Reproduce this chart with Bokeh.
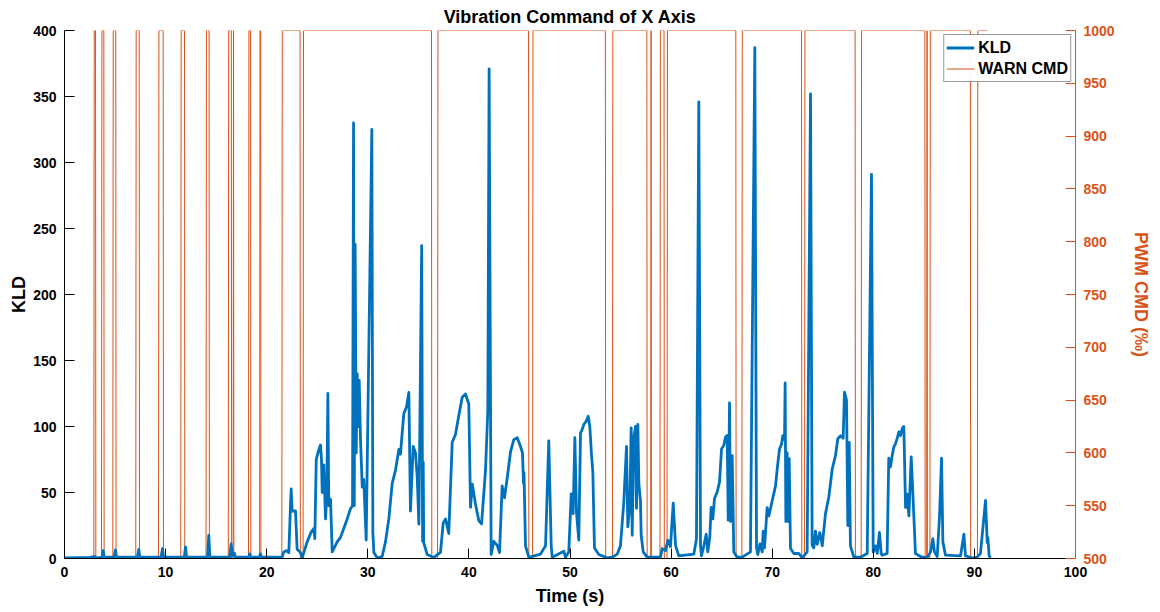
from bokeh.plotting import figure
from bokeh.models import Range1d, LinearAxis, Legend, LegendItem, FixedTicker
from bokeh.embed import file_html
from bokeh.resources import INLINE

# ---- KLD series (time s, value) ----
kld_t = [0, 2.5, 3.0, 3.2, 3.75, 3.83, 3.92, 4.9, 5.04, 5.15, 7.2, 7.35, 7.45, 9.55, 9.69, 9.8,
         11.85, 11.97, 12.08, 14.15, 14.27, 14.38, 16.35, 16.48, 16.6, 16.8, 16.9, 18.2, 18.33, 18.45,
         19.25, 19.38, 19.5, 21.3,
         21.53, 21.69, 21.96, 22.19, 22.35, 22.42, 22.52, 22.85, 23.01, 23.34, 23.51, 24.0, 24.4, 24.66,
         24.76, 24.9, 25.16, 25.32, 25.42, 25.49, 25.65, 25.82, 25.95, 26.05, 26.14, 26.31, 26.48, 26.97,
         27.3, 27.96, 28.29, 28.49, 28.59, 28.66, 28.75, 28.85, 28.95, 29.05, 29.15, 29.28, 29.45, 29.6,
         29.84, 30.4, 30.5, 30.6, 30.93, 31.42, 31.75, 32.08, 32.41, 32.74, 33.07,
         33.23, 33.4, 33.56, 33.83, 34.06, 34.22, 34.49, 34.72, 34.89, 35.05, 35.33, 35.42, 35.48, 35.53,
         35.88, 36.53, 37.19, 37.46, 37.69, 38.01, 38.35, 38.67, 39.0, 39.34, 39.66, 39.99, 40.16, 40.33,
         40.65, 40.98, 41.25, 41.64, 41.87, 42.0, 42.2, 42.46, 42.8, 43.03, 43.29, 43.52, 43.79, 44.12,
         44.44, 44.78, 45.1, 45.3, 45.4, 45.45, 45.6, 45.93,
         47.08, 47.58, 47.9, 48.14, 48.24, 49.39, 49.55, 49.88, 50.12, 50.31, 50.48, 50.64, 50.87, 51.04,
         51.21, 51.37, 51.6, 51.8, 51.96, 52.13, 52.26, 52.42, 52.85, 53.68, 54.17, 54.67, 54.99, 55.32,
         55.59, 55.72, 55.92, 56.05, 56.15, 56.31, 56.48, 56.58, 56.71, 56.81, 56.97, 57.04, 57.24,
         57.63, 58.95, 59.12, 59.45, 59.68, 59.94, 60.21, 60.44, 60.76, 62.25, 62.51, 62.74, 62.91, 63.0,
         63.24, 63.47, 63.63, 63.83, 63.96, 64.13, 64.29, 64.56, 64.79, 64.99, 65.21, 65.38, 65.55, 65.65,
         65.78, 65.88, 66.04, 66.2, 66.54, 67.03, 67.85, 68.28, 68.45, 68.58, 68.78, 69.01,
         69.11, 69.24, 69.5, 69.67, 70.0, 70.33, 70.49, 70.72, 70.92, 71.05, 71.22, 71.28, 71.35, 71.48,
         71.58, 71.68, 71.81, 72.14, 72.63, 72.97, 73.46, 73.79, 73.95, 74.12, 74.28, 74.45, 74.71, 74.95,
         75.27, 75.6, 75.94, 76.26, 76.49, 76.76, 77.02, 77.15, 77.35, 77.48, 77.62, 77.74, 78.07, 78.73,
         79.4, 79.82, 79.99, 80.22, 80.39, 80.61, 80.78,
         80.88, 81.37, 81.53, 81.7, 81.87, 82.03, 82.2, 82.36, 82.53, 82.69, 82.86, 83.02, 83.19, 83.35,
         83.52, 83.75, 83.91, 84.17, 84.67, 85.33, 85.66, 85.89, 86.05, 86.32, 86.55, 86.75, 86.88, 87.14,
         88.63, 88.96, 89.12, 89.78, 90.27, 90.6, 91.1, 91.27, 91.33, 91.46, 91.6]
kld_v = [0.5, 0.8, 1.5, 0.5, 1, 6, 1, 1, 6.5, 1, 1, 6.8, 1, 1, 7.4, 1,
         1, 8.7, 1, 1, 17.5, 1, 1, 11, 2, 4, 1, 1, 3.5, 1,
         1, 3.5, 1, 1,
         1, 5, 6, 4.5, 40, 52.7, 36, 36, 7, 4.5, 0.5, 12.6, 20, 22.7,
         15, 75, 82.6, 86, 75, 50, 71, 30, 50, 125, 40, 45, 5, 12.6,
         16, 30, 37.8, 40, 330, 40, 238, 80, 140, 100, 135, 90, 54, 60,
         14, 325, 20, 4.5, 0.5, 1.5, 12.6, 30, 56.7, 67, 82.6,
         79, 95, 109.6, 115, 125.8, 36, 85, 80, 61.5, 26, 237, 13, 73, 12,
         3, 0.8, 4.6, 27, 30, 18.9, 88, 94, 108.4, 122.2, 124.7, 117, 38.8, 56.4,
         41.3, 28.7, 26.2, 66.5, 111.9, 371, 3, 13, 10, 4.5, 55, 46, 61, 81,
         90, 91.5, 85, 80, 57, 65, 9.6, 0.8,
         3.3, 9.6, 89, 10, 1, 5.5, 1, 5, 49, 34, 91.5, 35, 14, 95,
         97.8, 101.6, 104, 107.8, 100, 78, 65.5, 8, 3, 0.5, 1, 3.3, 9.6, 42.6,
         85, 24, 40, 99, 17.6, 91.5, 100, 38, 101.6, 57, 43.8, 17.6, 5,
         1, 1, 7.5, 6, 13.8, 9, 42, 10, 2, 3.3, 15, 346, 10, 2,
         9.6, 18.4, 5, 16.4, 38.8, 30, 45.4, 50.4, 58, 83, 85.7, 92, 93.2, 29,
         117.9, 28, 78, 5, 1, 1, 5, 387, 8, 3, 11, 5,
         20.8, 8, 38.6, 32.3, 43.7, 55, 67.6, 82.8, 86.6, 93, 90, 133, 28, 80,
         28, 75.6, 7.6, 3.8, 3.8, 0.5, 5, 352, 10, 8, 20.8, 10.8, 19.7, 9.6,
         34, 46.6, 68, 78, 90.7, 93, 91, 126, 120, 25, 88, 9.6, 1, 1,
         3.8, 291, 5, 9.6, 3.8, 19.7, 3.8,
         2.5, 3.8, 76, 69.5, 78, 84.4, 87, 91, 96, 93, 98.5, 100, 38.6, 48.7,
         32.3, 76.9, 50, 3.8, 1.5, 0.5, 5, 15, 5, 1.5, 32, 76, 12.6, 2.5,
         2, 18.4, 2, 0.5, 1, 3.8, 44, 12, 16, 2, 0.5]

# ---- WARN CMD pulses (time s): level 500 low / 1000 high ----
pulse_on = [2.9, 3.66, 4.78, 7.05, 9.3, 11.5, 14.0, 16.2, 16.68, 18.2, 19.3, 21.5, 23.6, 36.9,
            46.3, 54.2, 57.98, 58.9, 59.6, 67.0, 73.2, 78.8, 85.28, 85.6, 90.3]
pulse_off = [3.07, 3.89, 5.07, 7.39, 9.76, 11.87, 14.3, 16.5, 16.72, 18.4, 19.4, 23.3, 36.3, 45.9,
             53.5, 57.6, 58.02, 59.3, 66.4, 72.9, 78.2, 85.1, 85.32, 89.6, None]
cmd_low, cmd_high = 500, 1000
t_end = 91.3

cmd_t, cmd_v = [0.0], [cmd_low]
for a, b in zip(pulse_on, pulse_off):
    cmd_t += [a, a + 0.04]
    cmd_v += [cmd_low, cmd_high]
    if b is None:
        cmd_t.append(t_end)
        cmd_v.append(cmd_high)
    else:
        cmd_t += [b, b + 0.03]
        cmd_v += [cmd_high, cmd_low]

BLUE = "#0072BD"
ORANGE = "#D95319"
FONT = "Liberation Sans"

p = figure(width=1160, height=610, output_backend="svg", toolbar_location=None,
           x_range=Range1d(0, 100), y_range=Range1d(0, 400),
           min_border_left=64, min_border_right=85, min_border_top=29, min_border_bottom=52)
p.extra_y_ranges = {"pwm": Range1d(500, 1000)}
p.outline_line_color = None
p.xgrid.visible = False
p.ygrid.visible = False
p.background_fill_color = "white"
p.border_fill_color = "white"

p.title.text = "Vibration Command of X Axis"
p.title.align = "center"
p.title.text_font = FONT
p.title.text_font_size = "18px"
p.title.text_font_style = "bold"
p.title.text_color = "#000000"
p.title.offset = 0
p.title.standoff = 8

l_cmd = p.line(cmd_t, cmd_v, y_range_name="pwm", line_color=ORANGE, line_width=1)
l_kld = p.line(kld_t, kld_v, line_color=BLUE, line_width=2.8, line_join="round")

right = LinearAxis(y_range_name="pwm", axis_label="PWM CMD (‰)")
p.add_layout(right, "right")

for ax in [p.xaxis[0], p.yaxis[0], right]:
    ax.major_tick_in = 10
    ax.major_tick_out = 0
    ax.minor_tick_line_color = None
    ax.major_label_text_font = FONT
    ax.major_label_text_font_size = "14px"
    ax.major_label_text_font_style = "bold"
    ax.axis_label_text_font = FONT
    ax.axis_label_text_font_size = "18px"
    ax.axis_label_text_font_style = "bold"
    ax.axis_label_standoff = 6
    ax.major_label_standoff = 8

p.yaxis[0].axis_label_standoff = 1
right.axis_label_standoff = 13

p.xaxis[0].ticker = FixedTicker(ticks=list(range(0, 101, 10)))
p.yaxis[0].ticker = FixedTicker(ticks=list(range(0, 401, 50)))
right.ticker = FixedTicker(ticks=list(range(500, 1001, 50)))
p.xaxis[0].axis_label = "Time (s)"
p.yaxis[0].axis_label = "KLD"
for ax in [p.xaxis[0], p.yaxis[0]]:
    ax.axis_line_color = "#000000"
    ax.major_tick_line_color = "#000000"
    ax.major_label_text_color = "#000000"
    ax.axis_label_text_color = "#000000"
right.axis_line_color = ORANGE
right.major_tick_line_color = ORANGE
right.major_label_text_color = ORANGE
right.axis_label_text_color = ORANGE

legend = Legend(items=[LegendItem(label="KLD", renderers=[l_kld]),
                       LegendItem(label="WARN CMD", renderers=[l_cmd])],
                location="top_right")
legend.label_text_font = FONT
legend.label_text_font_size = "16px"
legend.label_text_font_style = "bold"
legend.label_text_color = "#000000"
legend.border_line_color = "#333333"
legend.border_line_width = 1
legend.margin = 4
legend.padding = 2
legend.spacing = 0
legend.glyph_width = 28
legend.glyph_height = 21
legend.label_height = 21
legend.label_standoff = 4
p.add_layout(legend)

open("out.html", "w").write(file_html(p, INLINE))
